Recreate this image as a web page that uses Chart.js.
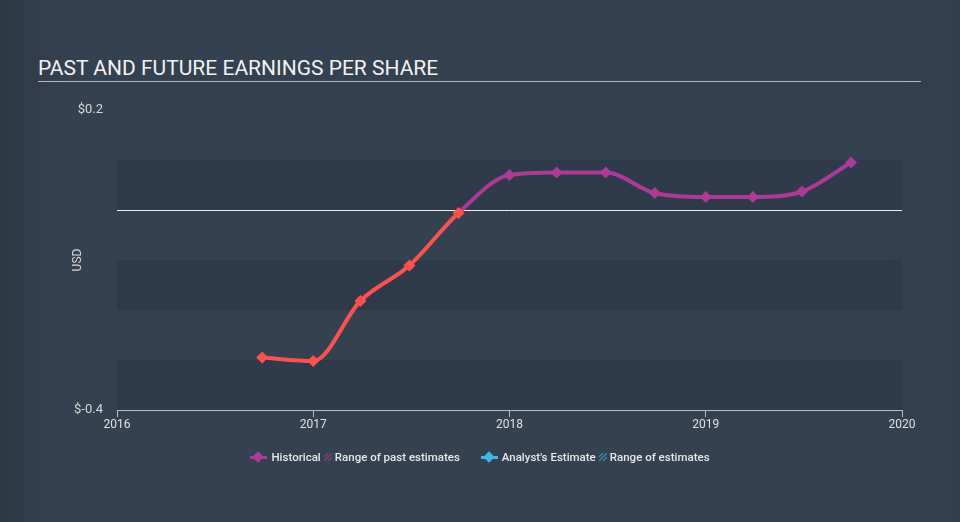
<!DOCTYPE html>
<html>
<head>
<meta charset="utf-8">
<script src="https://cdn.jsdelivr.net/npm/chart.js@4"></script>
<style>
  html, body { margin:0; padding:0; }
  body { width:960px; height:522px; overflow:hidden; position:relative;
         background: linear-gradient(to right, #2e3946 0px, #344151 70px, #344151 880px, #313d4c 960px);
         font-family: Roboto, "Noto Sans", sans-serif; }
  #title { position:absolute; left:38px; top:56px; color:#f2f2f2; font-size:21px; letter-spacing:0px; white-space:nowrap; }
  #rule { position:absolute; left:38px; top:81px; width:883px; height:1px; background:#b5bac1; }
  #wrap { position:absolute; left:0; top:0; width:960px; height:522px; }
  #legend { position:absolute; top:450px; left:0; width:960px; text-align:center; font-size:11.5px; font-weight:500; color:#e8e8e8; white-space:nowrap; padding-left:0px; }
  #legend span.item { display:inline-flex; align-items:center; margin:0 4px; }
  .mk { display:inline-block; position:relative; width:17px; height:12px; margin-right:4px; }
  .mk i { position:absolute; left:0; top:5px; width:17px; height:3px; }
  .mk b { position:absolute; left:4px; top:2px; width:8px; height:8px; transform:rotate(45deg); }
  .hatch { display:inline-block; width:8px; height:8px; margin:0 3px 0 3px; }
</style>
</head>
<body>
<div id="title">PAST AND FUTURE EARNINGS PER SHARE</div>
<div id="rule"></div>
<div id="wrap"><canvas id="c" width="960" height="522"></canvas></div>
<div id="legend">
  <span class="item"><span class="mk"><i style="background:#b0399c"></i><b style="background:#b0399c"></b></span>Historical<svg class="hatch" viewBox="0 0 8 8"><path d="M0 4 L4 0 M0 8 L8 0 M4 8 L8 4" stroke="#8a3a80" stroke-width="1.3"/></svg>Range of past estimates</span>
  <span class="item" style="margin-left:14px"><span class="mk"><i style="background:#3eb8e0"></i><b style="background:#3eb8e0"></b></span>Analyst's Estimate<svg class="hatch" viewBox="0 0 8 8"><path d="M0 4 L4 0 M0 8 L8 0 M4 8 L8 4" stroke="#3a8db0" stroke-width="1.3"/></svg>Range of estimates</span>
</div>
<script>
// ---- data ----
const periods = [2016.74, 2017.0, 2017.24, 2017.49, 2017.74, 2018.0, 2018.24, 2018.49, 2018.74, 2019.0, 2019.24, 2019.49, 2019.74];
const eps = [-0.295, -0.302, -0.182, -0.111, -0.006, 0.070, 0.075, 0.075, 0.034, 0.026, 0.026, 0.037, 0.095];
const xTicks = [2016, 2017, 2018, 2019, 2020];
const yTickLabels = { "0.2": "$0.2", "-0.4": "$-0.4" };
const bandRanges = [[0.1, 0], [-0.1, -0.2], [-0.3, -0.4]];

const RED = '#ff4f4f';
const PURPLE = '#ad3a97';

const points = periods.map((p, i) => ({ x: p, y: eps[i] }));

function lineColor(ctx) {
  const chart = ctx.chart;
  const area = chart.chartArea;
  if (!area) return RED;
  const y0 = chart.scales.y.getPixelForValue(0);
  const g = chart.ctx.createLinearGradient(0, area.top, 0, area.bottom);
  const s = Math.min(1, Math.max(0, (y0 - area.top) / (area.bottom - area.top)));
  g.addColorStop(0, PURPLE); g.addColorStop(s, PURPLE);
  g.addColorStop(s, RED); g.addColorStop(1, RED);
  return g;
}

const bands = {
  id: 'bands',
  beforeDraw(chart) {
    const { ctx, chartArea: a, scales: { y } } = chart;
    ctx.save();
    ctx.fillStyle = 'rgba(38,48,61,0.32)';
    bandRanges.forEach(([hi, lo]) => {
      const t = y.getPixelForValue(hi), b = y.getPixelForValue(lo);
      ctx.fillRect(a.left, t, a.right - a.left, b - t);
    });
    ctx.restore();
  }
};

new Chart(document.getElementById('c'), {
  type: 'line',
  data: {
    datasets: [{
      data: points,
      borderColor: lineColor,
      borderWidth: 4,
      cubicInterpolationMode: 'monotone',
      pointStyle: 'rectRot',
      pointRadius: 6,
      pointHoverRadius: 6,
      pointBorderWidth: 0,
      pointBackgroundColor: ctx => (ctx.raw && ctx.raw.y >= 0 ? PURPLE : RED),
      fill: false
    }]
  },
  options: {
    responsive: false,
    animation: false,
    events: [],
    layout: { padding: { left: 0, right: 58, top: 110, bottom: 82 } },
    plugins: { legend: { display: false }, tooltip: { enabled: false } },
    scales: {
      x: {
        type: 'linear', min: 2016, max: 2020,
        afterBuildTicks: s => { s.ticks = xTicks.map(v => ({ value: v })); },
        afterFit: s => { s.height = 30; },
        grid: { drawOnChartArea: false, drawTicks: true, tickLength: 7, color: '#b8bec6', lineWidth: 1 },
        border: { display: true, color: '#b8bec6', width: 1 },
        ticks: { color: '#e0e0e0', font: { family: 'Roboto', size: 12 }, padding: 1, maxRotation: 0,
                 callback: v => String(v) }
      },
      y: {
        min: -0.4, max: 0.2,
        afterBuildTicks: s => { s.ticks = [0.2, 0.1, 0, -0.1, -0.2, -0.3, -0.4].map(v => ({ value: v })); },
        afterFit: s => { s.width = 117; },
        grid: { drawTicks: false, lineWidth: 1,
                color: ctx => (ctx.tick && Math.abs(ctx.tick.value) < 1e-9 ? '#f0f0f0' : 'rgba(0,0,0,0)') },
        border: { display: false },
        ticks: { color: '#d8d8d8', font: { family: 'Roboto', size: 13 }, padding: 14,
                 callback: v => yTickLabels[String(Math.round(v * 10) / 10)] || '' },
        title: { display: true, text: 'USD', color: '#d8d8d8', font: { family: 'Roboto', size: 12 },
                 padding: { top: 71, bottom: 0 } }
      }
    }
  },
  plugins: [bands]
});
</script>
</body>
</html>
